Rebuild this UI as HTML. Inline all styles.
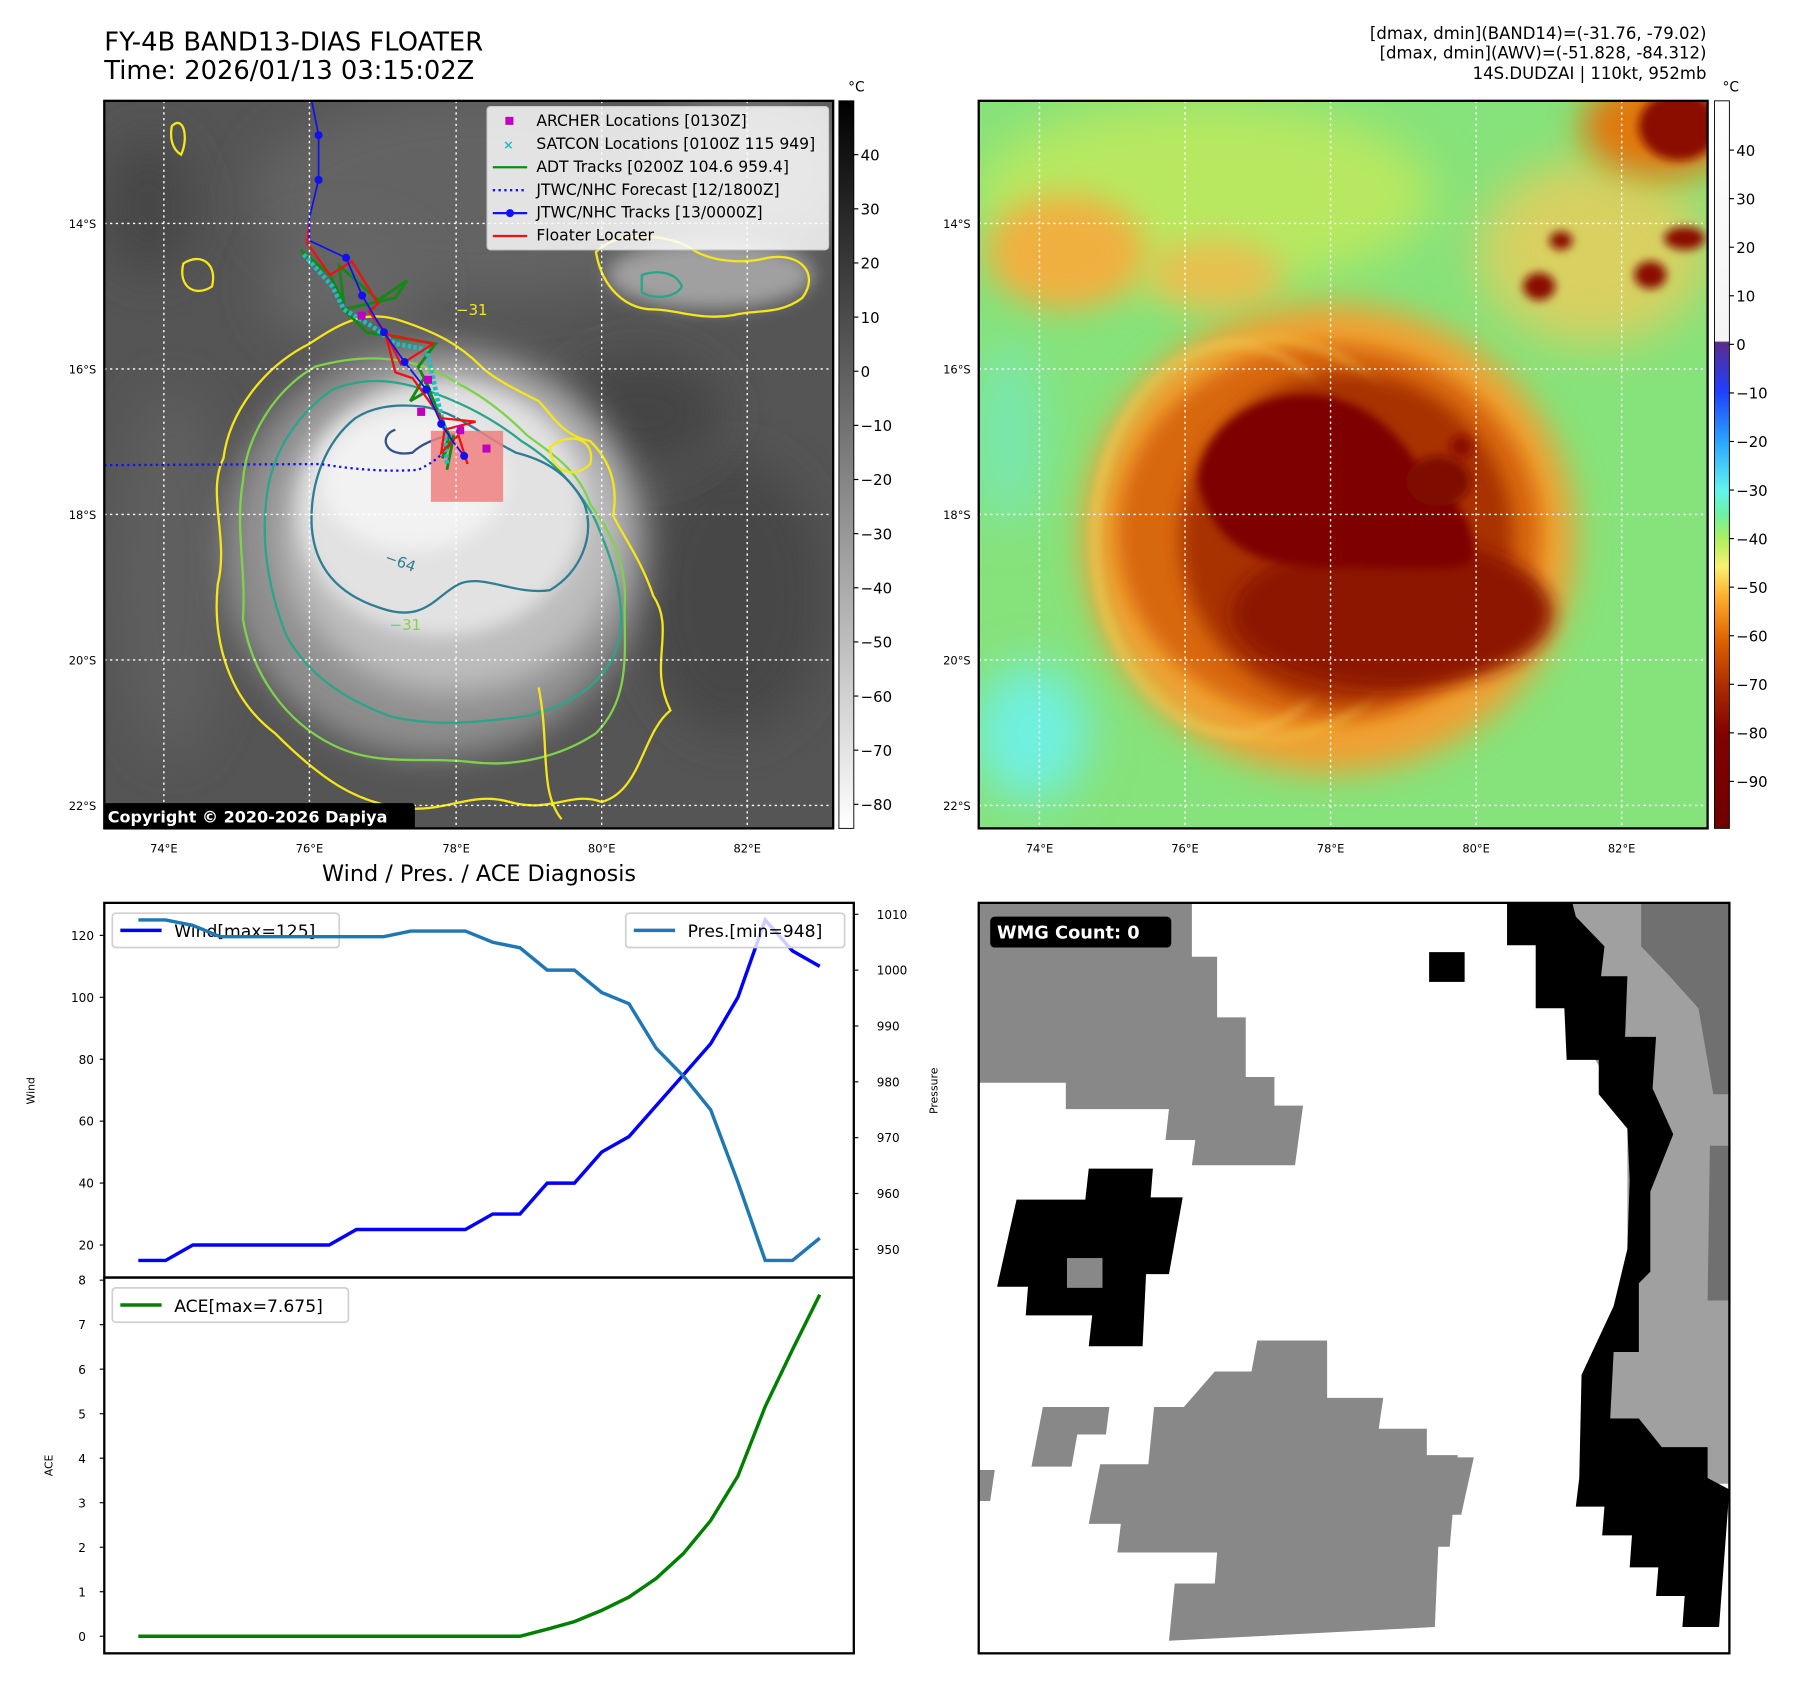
<!DOCTYPE html>
<html><head><meta charset="utf-8"><title>FY-4B BAND13 Floater</title>
<style>
html,body{margin:0;padding:0;background:#fff;}
svg{display:block;font-family:"DejaVu Sans","Liberation Sans",sans-serif;}
</style></head>
<body>
<svg id="fig" width="1797" height="1690" viewBox="0 0 1568 1475" preserveAspectRatio="none" xmlns="http://www.w3.org/2000/svg">
<defs>
  <filter id="b8" x="-50%" y="-50%" width="200%" height="200%"><feGaussianBlur stdDeviation="8"/></filter>
  <filter id="b14" x="-50%" y="-50%" width="200%" height="200%"><feGaussianBlur stdDeviation="14"/></filter>
  <filter id="b20" x="-50%" y="-50%" width="200%" height="200%"><feGaussianBlur stdDeviation="20"/></filter>
  <filter id="b4" x="-50%" y="-50%" width="200%" height="200%"><feGaussianBlur stdDeviation="4"/></filter>
  <clipPath id="clipL"><rect x="91" y="88" width="636" height="635"/></clipPath>
  <clipPath id="clipR"><rect x="854" y="88" width="636" height="635"/></clipPath>
  <clipPath id="clipW"><rect x="854" y="788" width="655" height="655"/></clipPath>
  <linearGradient id="cbL" x1="0" y1="0" x2="0" y2="1">
    <stop offset="0" stop-color="#000"/><stop offset="1" stop-color="#fff"/>
  </linearGradient>
  <linearGradient id="cbR" x1="0" y1="0" x2="0" y2="1">
    <stop offset="0" stop-color="#ffffff"/>
    <stop offset="0.33" stop-color="#f4f4f4"/>
    <stop offset="0.332" stop-color="#5a2c8c"/>
    <stop offset="0.40" stop-color="#1f40ff"/>
    <stop offset="0.47" stop-color="#2aa8ff"/>
    <stop offset="0.535" stop-color="#60f4f0"/>
    <stop offset="0.57" stop-color="#70f0a0"/>
    <stop offset="0.60" stop-color="#a8f060"/>
    <stop offset="0.64" stop-color="#f8f070"/>
    <stop offset="0.68" stop-color="#ffb030"/>
    <stop offset="0.74" stop-color="#e06400"/>
    <stop offset="0.81" stop-color="#a82800"/>
    <stop offset="0.87" stop-color="#820200"/>
    <stop offset="1" stop-color="#700000"/>
  </linearGradient>
</defs>

<text x="91" y="44" font-size="22.5">FY-4B BAND13-DIAS FLOATER</text>
<text x="91" y="69" font-size="22.5">Time: 2026/01/13 03:15:02Z</text>
<g font-size="14.4" text-anchor="end">
  <text x="1489" y="34">[dmax, dmin](BAND14)=(-31.76, -79.02)</text>
  <text x="1489" y="51">[dmax, dmin](AWV)=(-51.828, -84.312)</text>
  <text x="1489" y="69">14S.DUDZAI | 110kt, 952mb</text>
</g>

<!-- LEFT MAP -->
<g clip-path="url(#clipL)">
  <rect x="91" y="88" width="636" height="635" fill="#555"/>
  <ellipse cx="420" cy="170" rx="200" ry="90" fill="#646464" filter="url(#b20)"/>
  <ellipse cx="650" cy="150" rx="90" ry="70" fill="#7a7a7a" filter="url(#b20)"/>
  <ellipse cx="150" cy="500" rx="50" ry="160" fill="#5e5e5e" filter="url(#b20)"/>
  <ellipse cx="640" cy="520" rx="80" ry="120" fill="#474747" filter="url(#b20)"/>
  <ellipse cx="130" cy="180" rx="40" ry="60" fill="#474747" filter="url(#b20)"/>
  <ellipse cx="560" cy="360" rx="70" ry="50" fill="#454545" filter="url(#b20)"/>
  <ellipse cx="300" cy="250" rx="70" ry="50" fill="#666" filter="url(#b20)"/>
  <ellipse cx="380" cy="480" rx="185" ry="180" fill="#8e8e8e" filter="url(#b14)"/>
  <ellipse cx="395" cy="465" rx="150" ry="140" fill="#bdbdbd" filter="url(#b14)"/>
  <ellipse cx="385" cy="445" rx="125" ry="110" fill="#e2e2e2" filter="url(#b8)"/>
  <ellipse cx="360" cy="420" rx="80" ry="60" fill="#f2f2f2" filter="url(#b8)"/>
  <ellipse cx="620" cy="240" rx="90" ry="30" fill="#a0a0a0" filter="url(#b8)"/>
  <path d="M270,300 C230,320 200,360 195,400 C180,430 200,470 190,510 C185,560 200,610 240,640 C280,680 310,700 350,705 C390,710 410,690 445,700 C480,710 500,690 525,700 C560,690 560,640 585,620 C565,580 590,550 570,520 C560,490 545,470 535,450 C540,420 530,400 515,385 C490,380 480,360 470,350 C450,340 430,330 420,320 C400,300 380,290 350,280 C320,270 300,280 270,300 Z" fill="none" stroke="#f5e61a" stroke-width="2"/>
  <path d="M275,320 C240,340 215,380 212,420 C205,460 215,500 212,540 C220,590 250,630 290,650 C330,670 370,660 410,665 C450,670 490,660 520,640 C550,610 545,570 545,530 C548,490 530,460 515,440 C505,410 480,395 460,380 C440,360 420,345 400,335 C370,315 330,305 275,320 Z" fill="none" stroke="#7fd34a" stroke-width="2"/>
  <path d="M290,340 C255,365 235,400 232,440 C228,480 236,520 250,555 C270,590 300,610 340,625 C380,635 420,630 460,625 C500,615 530,595 540,560 C548,520 530,480 520,455 C505,425 480,400 455,385 C430,365 400,350 370,340 C340,330 315,330 290,340 Z" fill="none" stroke="#2aa58a" stroke-width="2"/>
  <path d="M310,365 C285,385 270,420 272,460 C275,500 300,520 330,530 C370,545 380,520 400,510 C420,500 450,520 480,515 C505,500 520,470 510,440 C495,410 470,400 450,395 C420,380 400,360 370,355 C345,352 325,355 310,365 Z" fill="none" stroke="#2f7d92" stroke-width="2"/>
  <path d="M345,375 C330,380 335,400 360,395 C370,385 390,380 400,378" fill="none" stroke="#34528a" stroke-width="2"/>
  <path d="M520,220 C540,200 580,205 600,215 C620,230 650,230 670,225 C700,220 715,240 700,260 C680,275 660,270 640,275 C610,280 590,270 570,270 C545,270 525,250 520,220 Z" fill="none" stroke="#f5e61a" stroke-width="2"/>
  <path d="M560,240 C575,235 590,238 595,250 C590,260 570,262 560,255 Z" fill="none" stroke="#2aa58a" stroke-width="2"/>
  <path d="M150,110 C160,100 165,120 158,135 C150,130 148,120 150,110 Z" fill="none" stroke="#f5e61a" stroke-width="2"/>
  <path d="M160,230 C175,220 190,230 185,250 C170,260 155,250 160,230 Z" fill="none" stroke="#f5e61a" stroke-width="2"/>
  <path d="M480,390 C500,375 520,385 515,405 C500,420 480,410 480,390 Z" fill="none" stroke="#f5e61a" stroke-width="2"/>
  <path d="M470,600 C480,650 470,690 490,715" fill="none" stroke="#f5e61a" stroke-width="2"/>
  <text x="398" y="275" font-size="13" fill="#f5e61a">−31</text>
  <text x="335" y="490" font-size="13" fill="#2f7d92" transform="rotate(20 335 490)">−64</text>
  <text x="340" y="550" font-size="13" fill="#7fd34a">−31</text>
  <rect x="376" y="376" width="63" height="62" fill="#f08080" opacity="0.85"/>
  <path d="M91,406 L280,405 C310,410 340,412 365,410 C375,405 383,400 386,395" fill="none" stroke="#1010ff" stroke-width="2" stroke-dasharray="2,3"/>
  <path d="M262,218 L288,240 L300,265 L296,232 L330,262 L355,245 L345,260 L300,270 L320,290 L350,295 L380,300 L365,320 L375,340 L358,350 L370,330 L385,365 L392,380 L386,400 L396,380 L390,410" fill="none" stroke="#108a10" stroke-width="2.5"/>
  <path d="M265,222 L290,250 L300,270 L325,285 L345,300 L372,305 L378,330 L382,350 L388,375 L390,405" fill="none" stroke="#17c1c1" stroke-width="4" stroke-dasharray="3,2"/>
  <path d="M270,193 L268,212 L288,240 L307,228 L330,265 L322,272 L338,292 L378,300 L350,318 L336,290 L345,325 L360,330 L385,365 L415,368 L388,375 L385,395 L400,380 L408,405" fill="none" stroke="#f01010" stroke-width="2"/>
  <path d="M272,88 L278,118 L278,157 L270,190 L270,210 L302,225 L316,258 L335,290 L353,316 L372,340 L385,370 L395,385 L405,398" fill="none" stroke="#1010f0" stroke-width="1.5"/>
  <g fill="#1010f0">
    <circle cx="278" cy="118" r="3.5"/><circle cx="278" cy="157" r="3.5"/><circle cx="302" cy="225" r="3.5"/><circle cx="316" cy="258" r="3.5"/><circle cx="335" cy="290" r="3.5"/><circle cx="353" cy="316" r="3.5"/><circle cx="372" cy="340" r="3.5"/><circle cx="385" cy="370" r="3.5"/><circle cx="405" cy="398" r="3.5"/>
  </g>
  <g fill="#c000c0">
    <rect x="312" y="272" width="7" height="7"/><rect x="370" y="328" width="7" height="7"/><rect x="364" y="356" width="7" height="7"/><rect x="421" y="388" width="7" height="7"/><rect x="398" y="372" width="7" height="7"/>
  </g>
  <g stroke="#fff" stroke-width="1.2" stroke-dasharray="2,3">
    <line x1="143" y1="88" x2="143" y2="723"/><line x1="270" y1="88" x2="270" y2="723"/><line x1="398" y1="88" x2="398" y2="723"/><line x1="525" y1="88" x2="525" y2="723"/><line x1="652" y1="88" x2="652" y2="723"/>
    <line x1="91" y1="195" x2="727" y2="195"/><line x1="91" y1="322" x2="727" y2="322"/><line x1="91" y1="449" x2="727" y2="449"/><line x1="91" y1="576" x2="727" y2="576"/><line x1="91" y1="703" x2="727" y2="703"/>
  </g>
  <g>
    <rect x="425" y="93" width="298" height="125" rx="3" fill="#fff" fill-opacity="0.82" stroke="#ccc"/>
    <rect x="441" y="102" width="7" height="7" fill="#c000c0"/>
    <text x="439" y="130" font-size="11" fill="#17c1c1" font-weight="bold">×</text>
    <line x1="430" y1="146" x2="460" y2="146" stroke="#108a10" stroke-width="2"/>
    <line x1="430" y1="166" x2="460" y2="166" stroke="#1010ff" stroke-width="2" stroke-dasharray="2,3"/>
    <line x1="430" y1="186" x2="460" y2="186" stroke="#1010ff" stroke-width="2"/><circle cx="445" cy="186" r="3.5" fill="#1010ff"/>
    <line x1="430" y1="206" x2="460" y2="206" stroke="#f01010" stroke-width="2"/>
    <g font-size="13.6" fill="#000">
      <text x="468" y="110">ARCHER Locations [0130Z]</text>
      <text x="468" y="130">SATCON Locations [0100Z 115 949]</text>
      <text x="468" y="150">ADT Tracks [0200Z 104.6 959.4]</text>
      <text x="468" y="170">JTWC/NHC Forecast [12/1800Z]</text>
      <text x="468" y="190">JTWC/NHC Tracks [13/0000Z]</text>
      <text x="468" y="210">Floater Locater</text>
    </g>
  </g>
  <rect x="89" y="701" width="273" height="23" rx="3" fill="#000"/>
  <text x="94" y="718" font-size="14" font-weight="bold" fill="#fff">Copyright © 2020-2026 Dapiya</text>
</g>
<rect x="91" y="88" width="636" height="635" fill="none" stroke="#000" stroke-width="2"/>

<!-- RIGHT MAP -->
<g clip-path="url(#clipR)">
  <rect x="854" y="88" width="636" height="635" fill="#86e27a"/>
  <ellipse cx="1050" cy="170" rx="200" ry="80" fill="#b8e860" filter="url(#b20)"/>
  <ellipse cx="930" cy="220" rx="70" ry="50" fill="#f0b040" filter="url(#b14)"/>
  <ellipse cx="1060" cy="240" rx="60" ry="30" fill="#e8c050" filter="url(#b14)"/>
  <ellipse cx="900" cy="640" rx="50" ry="60" fill="#70f0e0" filter="url(#b20)"/>
  <ellipse cx="880" cy="380" rx="30" ry="80" fill="#78e8b0" filter="url(#b20)"/>
  <ellipse cx="1390" cy="220" rx="100" ry="80" fill="#d8d060" filter="url(#b20)"/>
  <ellipse cx="1450" cy="110" rx="70" ry="45" fill="#e07810" filter="url(#b14)"/>
  <ellipse cx="1160" cy="470" rx="215" ry="205" fill="#f0a030" filter="url(#b14)"/>
  <ellipse cx="1160" cy="465" rx="185" ry="165" fill="#d86808" filter="url(#b8)"/>
  <ellipse cx="1105" cy="470" rx="150" ry="175" fill="none" stroke="#f0c040" stroke-width="6" filter="url(#b4)" opacity="0.6"/>
  <ellipse cx="1075" cy="470" rx="120" ry="170" fill="none" stroke="#f6d060" stroke-width="5" filter="url(#b4)" opacity="0.5"/>
  <ellipse cx="1175" cy="470" rx="145" ry="145" fill="#a83000" filter="url(#b8)"/>
  <ellipse cx="1215" cy="535" rx="140" ry="65" fill="#8c1400" filter="url(#b8)"/>
  <path d="M1045,420 C1050,370 1100,340 1150,345 C1200,350 1230,390 1245,420 C1270,430 1290,460 1285,490 C1270,500 1220,495 1160,495 C1100,495 1060,480 1045,420 Z" fill="#7e0000" filter="url(#b4)"/>
  <ellipse cx="1255" cy="420" rx="28" ry="22" fill="#7e0800" filter="url(#b4)"/>
  <g fill="#8a0a00" filter="url(#b4)">
    <ellipse cx="1465" cy="110" rx="35" ry="30"/>
    <ellipse cx="1470" cy="208" rx="18" ry="10"/>
    <ellipse cx="1343" cy="250" rx="14" ry="12"/>
    <ellipse cx="1362" cy="210" rx="10" ry="8"/>
    <ellipse cx="1440" cy="240" rx="14" ry="12"/>
    <ellipse cx="1275" cy="390" rx="10" ry="10"/>
  </g>
  <g stroke="#fff" stroke-width="1.2" stroke-dasharray="2,3">
    <line x1="907" y1="88" x2="907" y2="723"/><line x1="1034" y1="88" x2="1034" y2="723"/><line x1="1161" y1="88" x2="1161" y2="723"/><line x1="1288" y1="88" x2="1288" y2="723"/><line x1="1415" y1="88" x2="1415" y2="723"/>
    <line x1="854" y1="195" x2="1490" y2="195"/><line x1="854" y1="322" x2="1490" y2="322"/><line x1="854" y1="449" x2="1490" y2="449"/><line x1="854" y1="576" x2="1490" y2="576"/><line x1="854" y1="703" x2="1490" y2="703"/>
  </g>
</g>
<rect x="854" y="88" width="636" height="635" fill="none" stroke="#000" stroke-width="2"/>

<g font-size="10" fill="#000" text-anchor="end">
  <text x="84" y="199">14°S</text><text x="84" y="326">16°S</text><text x="84" y="453">18°S</text><text x="84" y="580">20°S</text><text x="84" y="707">22°S</text>
  <text x="847" y="199">14°S</text><text x="847" y="326">16°S</text><text x="847" y="453">18°S</text><text x="847" y="580">20°S</text><text x="847" y="707">22°S</text>
</g>
<g font-size="10" fill="#000" text-anchor="middle">
  <text x="143" y="744">74°E</text><text x="270" y="744">76°E</text><text x="398" y="744">78°E</text><text x="525" y="744">80°E</text><text x="652" y="744">82°E</text>
  <text x="907" y="744">74°E</text><text x="1034" y="744">76°E</text><text x="1161" y="744">78°E</text><text x="1288" y="744">80°E</text><text x="1415" y="744">82°E</text>
</g>

<g>
  <rect x="732" y="88" width="13" height="635" fill="url(#cbL)" stroke="#000" stroke-width="0.8"/>
  <text x="740" y="80" font-size="12">°C</text>
  <g font-size="13" fill="#000" id="cbLticks"></g>
</g>
<g>
  <rect x="1496" y="88" width="13" height="635" fill="url(#cbR)" stroke="#000" stroke-width="0.8"/>
  <text x="1503" y="80" font-size="12">°C</text>
  <g font-size="13" fill="#000" id="cbRticks"></g>
</g>

<text x="418" y="769" font-size="19.5" text-anchor="middle">Wind / Pres. / ACE Diagnosis</text>
<g id="diag"></g>

<g>
  <rect x="854" y="788" width="655" height="655" fill="#fff"/>
  <g clip-path="url(#clipW)">
  <polygon fill="#888" points="854,788 1040,788 1040,835 1062,835 1062,888 1087,888 1087,940 1112,940 1112,965 1137,965 1130,1017 1040,1017 1043,995 1017,995 1020,968 930,968 930,945 854,945"/>
  <polygon fill="#000" points="950,1020 1006,1020 1004,1045 1032,1045 1020,1112 1000,1112 997,1175 950,1175 953,1148 895,1148 897,1123 870,1123 887,1047 947,1047"/>
  <rect x="931" y="1098" width="31" height="26" fill="#888"/>
  <rect x="1247" y="831" width="31" height="26" fill="#000"/>
  <polygon fill="#888" points="1097,1170 1158,1170 1158,1220 1207,1220 1203,1247 1245,1247 1245,1270 1272,1270 1265,1350 1255,1350 1252,1420 1020,1432 1025,1382 1060,1382 1062,1355 975,1355 978,1330 950,1330 960,1278 1002,1278 1007,1228 1033,1228 1060,1197 1092,1197"/>
  <polygon fill="#888" points="910,1228 968,1228 965,1252 940,1252 935,1280 900,1280"/>
  <polygon fill="#888" points="854,1283 868,1283 864,1310 854,1310"/>
  <polygon fill="#888" points="1255,1272 1286,1272 1275,1322 1249,1322"/>
  <polygon fill="#a0a0a0" points="1372,788 1509,788 1509,1295 1400,1295 1390,1200 1420,1100 1420,985 1395,930 1365,880 1340,825 1315,800"/>
  <polygon fill="#707070" points="1432,788 1509,788 1509,955 1495,955 1482,880 1455,850 1432,826"/>
  <polygon fill="#707070" points="1492,1000 1509,1000 1509,1135 1490,1135"/>
  <polygon fill="#000" points="1315,788 1372,788 1375,800 1400,826 1397,852 1420,852 1418,905 1445,905 1442,950 1460,990 1440,1040 1440,1110 1430,1120 1430,1180 1408,1180 1405,1238 1430,1238 1450,1263 1490,1263 1490,1290 1509,1300 1500,1420 1468,1420 1470,1393 1445,1393 1447,1368 1422,1368 1424,1340 1398,1340 1400,1315 1375,1315 1378,1290 1380,1200 1408,1140 1420,1090 1422,1030 1420,985 1395,955 1395,925 1367,925 1365,880 1340,880 1340,825 1315,825"/>
  </g>
  <rect x="854" y="788" width="655" height="655" fill="none" stroke="#000" stroke-width="2"/>
  <rect x="864" y="800" width="158" height="27" rx="4" fill="#000"/>
  <text x="870" y="819" font-size="15.5" font-weight="bold" fill="#fff">WMG Count: 0</text>
</g>
</svg>

<script>
const cbLTicks = [40, 30, 20, 10, 0, -10, -20, -30, -40, -50, -60, -70, -80];
const cbRTicks = [40, 30, 20, 10, 0, -10, -20, -30, -40, -50, -60, -70, -80, -90];
const windValues = [15,15,20,20,20,20,20,20,25,25,25,25,25,30,30,40,40,50,55,65,75,85,100,125,115,110];
const presValues = [1009,1009,1008,1006,1006,1006,1006,1006,1006,1006,1007,1007,1007,1005,1004,1000,1000,996,994,986,981,975,962,948,948,952];
const aceValues = [0,0,0,0,0,0,0,0,0,0,0,0,0,0,0,0.16,0.33,0.58,0.88,1.3,1.86,2.6,3.6,5.16,6.44,7.675];
const windTicks = [20,40,60,80,100,120];
const presTicks = [950,960,970,980,990,1000,1010];
const aceTicks = [0,1,2,3,4,5,6,7,8];

const NS = 'http://www.w3.org/2000/svg';
function mk(tag, attrs, parent){
  const e = document.createElementNS(NS, tag);
  for (const k in attrs) e.setAttribute(k, attrs[k]);
  parent.appendChild(e);
  return e;
}

const cbLy = v => 135 + (40 - v) * (702 - 135) / 120;
const cbRy = v => 131 + (40 - v) * (682 - 131) / 130;
const gL = document.getElementById('cbLticks');
cbLTicks.forEach(v => {
  const y = cbLy(v);
  mk('line', {x1:745, x2:749, y1:y, y2:y, stroke:'#000'}, gL);
  const t = mk('text', {x:751, y:y+5}, gL);
  
  
  t.textContent = v < 0 ? '−' + (-v) : v;
});
const gR = document.getElementById('cbRticks');
cbRTicks.forEach(v => {
  const y = cbRy(v);
  mk('line', {x1:1509, x2:1513, y1:y, y2:y, stroke:'#000'}, gR);
  const t = mk('text', {x:1515, y:y+5}, gR);
  
  
  t.textContent = v < 0 ? '−' + (-v) : v;
});

const g = document.getElementById('diag');
const L = 91, R = 745, T1 = 788, B1 = 1115, T2 = 1115, B2 = 1443;
const n = windValues.length;
const xS = i => L + (i + 1.25) / (n - 1 + 2.5) * (R - L);
const wMin = 9.5, wMax = 130.5;
const yW = v => B1 - (v - wMin) / (wMax - wMin) * (B1 - T1);
const pMin = 944.95, pMax = 1012.05;
const yP = v => B1 - (v - pMin) / (pMax - pMin) * (B1 - T1);
const aMin = -0.384, aMax = 8.059;
const yA = v => B2 - (v - aMin) / (aMax - aMin) * (B2 - T2);

mk('rect', {x:L, y:T1, width:R-L, height:B2-T1, fill:'#fff'}, g);

windTicks.forEach(v => {
  const y = yW(v);
  mk('line', {x1:L-4, x2:L, y1:y, y2:y, stroke:'#000'}, g);
  const t = mk('text', {x:L-9, y:y+4, 'font-size':10.5, 'text-anchor':'end'}, g);
  
  
  t.textContent = v;
});
presTicks.forEach(v => {
  const y = yP(v);
  mk('line', {x1:R, x2:R+4, y1:y, y2:y, stroke:'#000'}, g);
  const t = mk('text', {x:R+20, y:y+4, 'font-size':10.5}, g);
  
  
  t.textContent = v;
});
aceTicks.forEach(v => {
  const y = yA(v);
  mk('line', {x1:L-4, x2:L, y1:y, y2:y, stroke:'#000'}, g);
  const t = mk('text', {x:L-16, y:y+4, 'font-size':10.5, 'text-anchor':'end'}, g);
  
  
  t.textContent = v;
});

const wl = mk('text', {x:30, y:952, 'font-size':9.5, 'text-anchor':'middle', transform:'rotate(-90 30 952)'}, g);


wl.textContent = 'Wind';
const pl = mk('text', {x:818, y:952, 'font-size':9.5, 'text-anchor':'middle', transform:'rotate(-90 818 952)'}, g);


pl.textContent = 'Pressure';
const al = mk('text', {x:46, y:1279, 'font-size':9.5, 'text-anchor':'middle', transform:'rotate(-90 46 1279)'}, g);


al.textContent = 'ACE';

const pts = (arr, yf) => arr.map((v, i) => xS(i).toFixed(1) + ',' + yf(v).toFixed(1)).join(' ');
const wLine = mk('polyline', {points:pts(windValues, yW), fill:'none', stroke:'#0000ff', 'stroke-width':3}, g);


const pLine = mk('polyline', {points:pts(presValues, yP), fill:'none', stroke:'#1f77b4', 'stroke-width':3}, g);


const aLine = mk('polyline', {points:pts(aceValues, yA), fill:'none', stroke:'#008000', 'stroke-width':3}, g);



function legend(x, y, w, color, label, name){
  const lg = mk('g', {}, g);
  
  
  mk('rect', {x:x, y:y, width:w, height:30, rx:3, fill:'#fff', 'fill-opacity':0.8, stroke:'#d0d0d0', 'stroke-width':1.5}, lg);
  mk('line', {x1:x+7, x2:x+43, y1:y+15, y2:y+15, stroke:color, 'stroke-width':3}, lg);
  const t = mk('text', {x:x+54, y:y+21, 'font-size':15}, lg);
  t.textContent = label;
}
legend(98, 797, 198, '#0000ff', 'Wind[max=125]', 'wind-legend');
legend(546, 797, 191, '#1f77b4', 'Pres.[min=948]', 'pressure-legend');
legend(98, 1124, 206, '#008000', 'ACE[max=7.675]', 'ace-legend');
g.appendChild(pLine);

mk('rect', {x:L, y:T1, width:R-L, height:B1-T1, fill:'none', stroke:'#000', 'stroke-width':2}, g);
mk('rect', {x:L, y:T2, width:R-L, height:B2-T2, fill:'none', stroke:'#000', 'stroke-width':2}, g);
</script>
</body></html>
